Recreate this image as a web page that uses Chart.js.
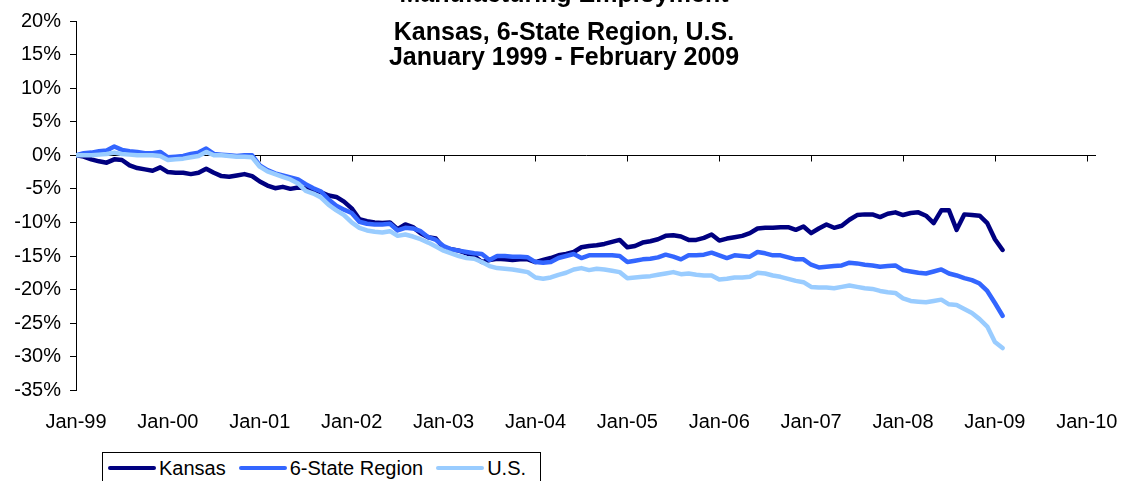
<!DOCTYPE html>
<html>
<head>
<meta charset="utf-8">
<script src="https://cdn.jsdelivr.net/npm/chart.js@4/dist/chart.umd.min.js"></script>
<style>
  html, body { margin: 0; padding: 0; background: #fff; }
  #wrap { position: relative; width: 1123px; height: 481px; overflow: hidden; }
  #legend {
    position: absolute; left: 102px; top: 452px; height: 40px;
    border: 1px solid #000; background: #fff;
    display: flex; align-items: flex-start; padding: 4px 14px 0 5px;
    font-family: 'Liberation Sans', Arial, sans-serif; font-size: 20px; color: #000;
  }
  #legend .item { display: flex; align-items: center; margin-right: 13px; height: 22px; }
  #legend .item:last-child { margin-right: 0; }
  #legend .swatch { width: 48px; height: 4px; border-radius: 2px; margin-right: 3px; }
</style>
</head>
<body>
<div id="wrap">
  <canvas id="chart" width="1123" height="481"></canvas>
  <div id="legend"></div>
</div>
<script>
// monthly % change since Jan 1999, Jan-99 .. Feb-09
const kansas = [
  0, -0.2, -0.6, -0.9, -1.1, -0.6, -0.7, -1.5, -1.9, -2.1,
  -2.3, -1.8, -2.5, -2.6, -2.6, -2.8, -2.6, -2.0, -2.6, -3.1,
  -3.2, -3.0, -2.8, -3.1, -3.9, -4.5, -4.9, -4.7, -5.0, -4.8,
  -4.9, -5.1, -5.5, -6.0, -6.2, -6.9, -7.9, -9.5, -9.8, -10.0,
  -10.1, -10.0, -11.0, -10.3, -10.7, -11.6, -12.2, -12.4, -13.8, -14.0,
  -14.2, -14.6, -15.0, -15.9, -15.6, -15.4, -15.5, -15.6, -15.5, -15.5,
  -15.9, -15.6, -15.3, -14.9, -14.7, -14.4, -13.7, -13.5, -13.4, -13.2,
  -12.9, -12.6, -13.7, -13.5, -13.0, -12.8, -12.5, -12.0, -11.9, -12.1,
  -12.6, -12.6, -12.3, -11.8, -12.7, -12.4, -12.2, -12.0, -11.6, -10.9,
  -10.8, -10.8, -10.7, -10.7, -11.1, -10.6, -11.6, -10.9, -10.3, -10.8,
  -10.5, -9.6, -8.9, -8.8, -8.8, -9.2, -8.7, -8.5, -8.9, -8.6,
  -8.5, -9.0, -10.1, -8.2, -8.2, -11.1, -8.8, -8.9, -9.0, -10.1,
  -12.5, -14.1
];
const sixState = [
  0, 0.3, 0.4, 0.6, 0.7, 1.3, 0.8, 0.6, 0.5, 0.3,
  0.3, 0.5, -0.3, -0.2, -0.1, 0.2, 0.4, 1.0, 0.2, 0.1,
  0, -0.1, 0, 0, -1.5, -2.2, -2.7, -3.0, -3.3, -3.6,
  -4.3, -4.9, -5.4, -6.6, -7.5, -8.1, -8.6, -9.9, -10.2, -10.3,
  -10.3, -10.2, -11.2, -10.8, -10.9, -11.3, -12.2, -12.6, -13.5, -14.0,
  -14.2, -14.4, -14.6, -14.7, -15.6, -15.0, -15.0, -15.1, -15.1, -15.2,
  -15.9, -16.0, -15.9, -15.3, -15.0, -14.7, -15.3, -14.9, -14.9, -14.9,
  -14.9, -15.0, -15.9, -15.7, -15.5, -15.4, -15.2, -14.8, -15.1, -15.5,
  -14.9, -14.9, -14.8, -14.5, -14.9, -15.3, -14.9, -15.0, -15.1, -14.4,
  -14.6, -14.9, -14.9, -15.2, -15.5, -15.5, -16.3, -16.7, -16.6, -16.5,
  -16.4, -16.0, -16.1, -16.3, -16.4, -16.6, -16.5, -16.4, -17.1, -17.3,
  -17.5, -17.6, -17.3, -17.0, -17.6, -17.9, -18.3, -18.6, -19.1, -20.2,
  -22.0, -23.9
];
const us = [
  0, 0, 0, 0.1, 0.2, 0.4, 0.2, 0.1, 0, 0,
  0, -0.1, -0.7, -0.6, -0.5, -0.3, -0.1, 0.5, 0, 0,
  -0.1, -0.2, -0.2, -0.3, -1.7, -2.4, -2.8, -3.2, -3.6, -4.2,
  -5.3, -5.7, -6.3, -7.4, -8.2, -8.9, -10.0, -10.8, -11.2, -11.4,
  -11.5, -11.3, -12.0, -11.8, -12.1, -12.5, -13.0, -13.6, -14.2, -14.6,
  -15.0, -15.3, -15.4, -15.9, -16.5, -16.8, -16.9, -17.0, -17.2, -17.4,
  -18.2, -18.4, -18.2, -17.8, -17.5, -17.0, -16.8, -17.1, -16.9, -17.0,
  -17.2, -17.4, -18.3, -18.2, -18.1, -18.0, -17.8, -17.6, -17.4, -17.7,
  -17.6, -17.8, -17.9, -17.9, -18.5, -18.4, -18.2, -18.2, -18.1, -17.5,
  -17.6, -17.9, -18.1, -18.4, -18.7, -18.9, -19.6, -19.7, -19.7, -19.8,
  -19.6, -19.4, -19.6, -19.8, -19.9, -20.2, -20.4, -20.5, -21.3, -21.7,
  -21.8, -21.9, -21.7, -21.5, -22.2, -22.3, -22.9, -23.5, -24.4, -25.5,
  -27.8, -28.7
];

const seriesNames  = ['Kansas', '6-State Region', 'U.S.'];
const seriesColors = ['#000080', '#3366FF', '#99CCFF'];
const yearLabels = ['Jan-99', 'Jan-00', 'Jan-01', 'Jan-02', 'Jan-03', 'Jan-04',
                    'Jan-05', 'Jan-06', 'Jan-07', 'Jan-08', 'Jan-09', 'Jan-10'];
const yMin = -35, yMax = 20, yStep = 5;
const titleLines = ['Manufacturing Employment', 'Kansas, 6-State Region, U.S.', 'January 1999 - February 2009'];

const FONT = "'Liberation Sans', Arial, sans-serif";

const toPoints = arr => arr.map((v, i) => ({ x: i, y: v }));

// excel-style title sitting over the plot, first line cropped off the top
const titlePlugin = {
  id: 'overTitle',
  afterDraw(chart) {
    const ctx = chart.ctx;
    const baselines = [1.5, 39.5, 64.5];
    ctx.save();
    ctx.fillStyle = '#000';
    ctx.font = `bold 25px ${FONT}`;
    ctx.textAlign = 'center';
    ctx.textBaseline = 'alphabetic';
    titleLines.forEach((t, i) => ctx.fillText(t, 564, baselines[i]));
    ctx.restore();
  }
};

// small tick marks hanging under the 0% line (category axis crosses there)
const zeroTicks = {
  id: 'zeroTicks',
  beforeDatasetsDraw(chart) {
    const { ctx, scales: { x, y } } = chart;
    const y0 = Math.round(y.getPixelForValue(0)) + 0.5;
    ctx.save();
    ctx.strokeStyle = '#000';
    ctx.lineWidth = 1;
    x.ticks.forEach(t => {
      const px = Math.round(x.getPixelForValue(t.value)) + 0.5;
      ctx.beginPath();
      ctx.moveTo(px, y0);
      ctx.lineTo(px, y0 + 6);
      ctx.stroke();
    });
    ctx.restore();
  }
};

const datasets = [kansas, sixState, us].map((arr, i) => ({
  label: seriesNames[i],
  data: toPoints(arr),
  borderColor: seriesColors[i],
  backgroundColor: seriesColors[i],
  borderWidth: 4.5,
  pointRadius: 0,
  tension: 0,
  borderCapStyle: 'round',
  borderJoinStyle: 'round',
  order: 3 - i
}));

new Chart(document.getElementById('chart'), {
  type: 'line',
  data: { datasets },
  options: {
    responsive: false,
    animation: false,
    devicePixelRatio: 1,
    layout: { padding: { top: 20.7, right: 27, bottom: 0, left: 0 } },
    plugins: {
      legend: { display: false },
      title: { display: false },
      tooltip: { enabled: false }
    },
    scales: {
      x: {
        type: 'linear',
        min: 0,
        max: 133.2,
        afterBuildTicks: s => { s.ticks = yearLabels.map((_, i) => ({ value: i * 12 })); },
        afterFit: s => {
          s.height = 90.7;
          // don't let the last label squeeze the plot, there is room on the right
          s.paddingLeft = 0;
          s.paddingRight = 0;
        },
        ticks: {
          autoSkip: false,
          maxRotation: 0,
          padding: 20,
          color: '#000',
          font: { family: FONT, size: 20 },
          callback: (v, i) => yearLabels[i]
        },
        grid: { display: false, drawTicks: false },
        border: { display: false }
      },
      y: {
        min: yMin,
        max: yMax,
        afterFit: s => { s.width = 76; },
        ticks: {
          stepSize: yStep,
          padding: 9,
          color: '#000',
          font: { family: FONT, size: 20 },
          callback: v => v + '%'
        },
        grid: {
          color: c => (c.tick && c.tick.value === 0 ? '#000' : 'rgba(0,0,0,0)'),
          tickColor: '#000',
          tickLength: 6,
          drawTicks: true
        },
        border: { display: true, color: '#000', width: 1 }
      }
    }
  },
  plugins: [zeroTicks, titlePlugin]
});

// legend box like the excel one, bottom left
const legendEl = document.getElementById('legend');
seriesNames.forEach((name, i) => {
  const item = document.createElement('div');
  item.className = 'item';
  const sw = document.createElement('span');
  sw.className = 'swatch';
  sw.style.background = seriesColors[i];
  const lab = document.createElement('span');
  lab.textContent = name;
  item.appendChild(sw);
  item.appendChild(lab);
  legendEl.appendChild(item);
});
</script>
</body>
</html>
